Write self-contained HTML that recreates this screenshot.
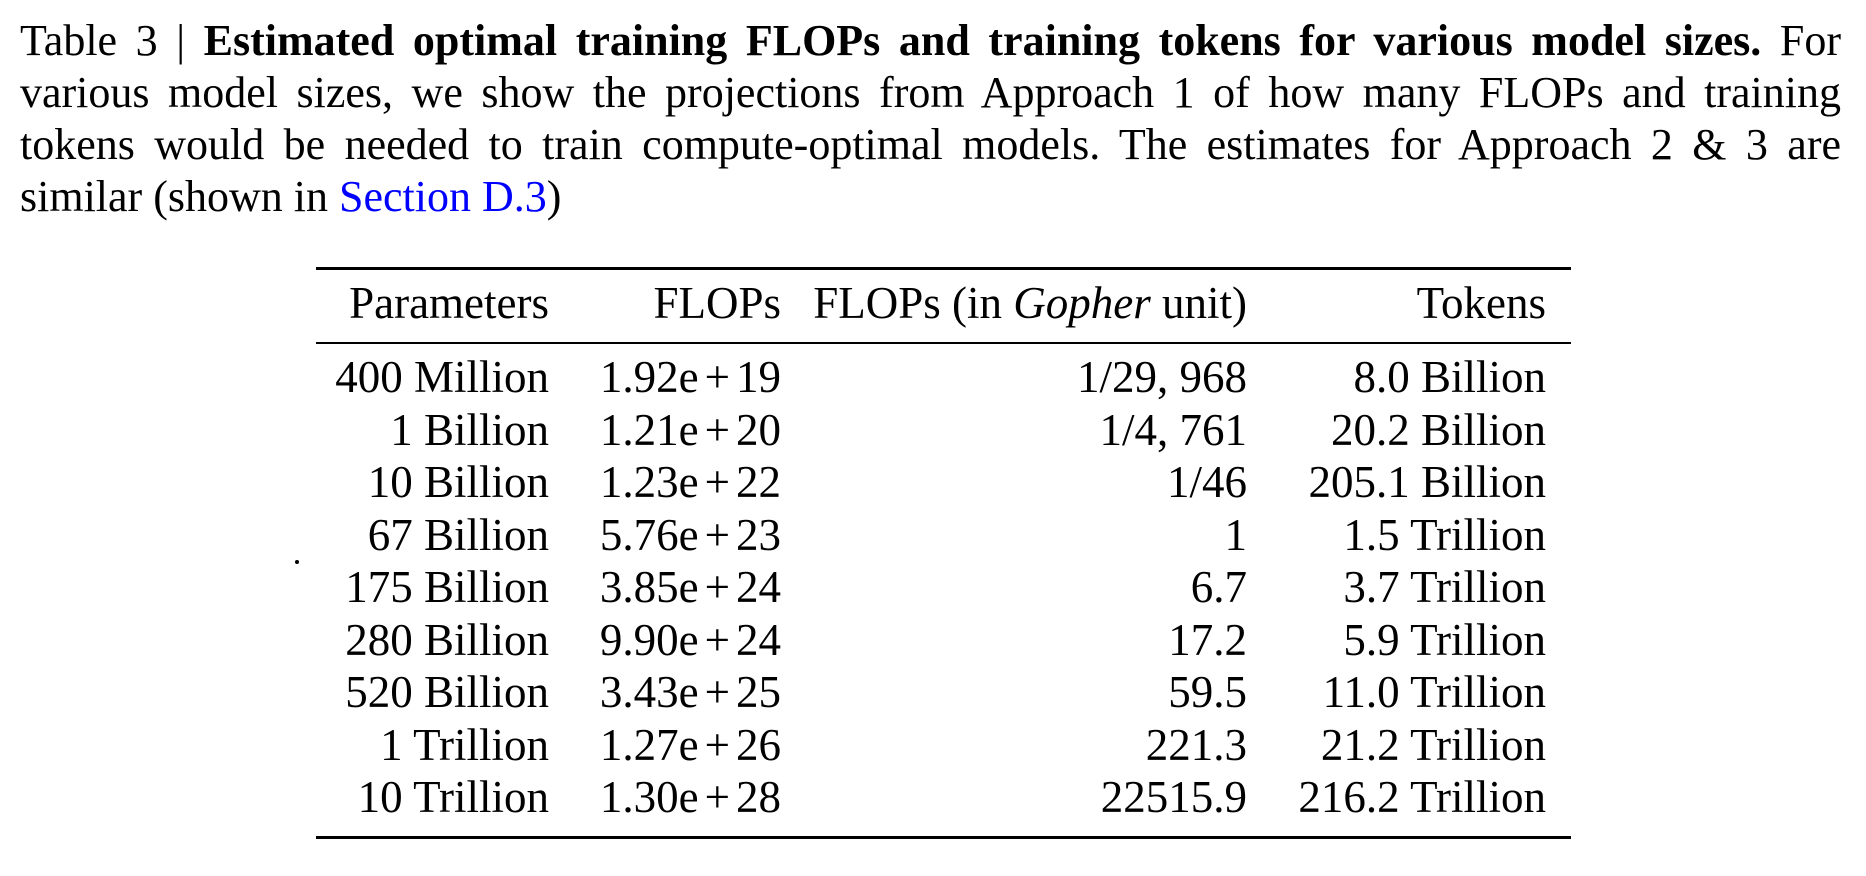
<!DOCTYPE html>
<html>
<head>
<meta charset="utf-8">
<style>
  html, body { margin:0; padding:0; background:#fff; }
  body { width:1866px; height:876px; position:relative; overflow:hidden;
         font-family:"Liberation Serif", serif; color:#000; }
  .cap { position:absolute; left:20px; width:1821px; font-size:44px; line-height:44px;
         white-space:normal; }
  .j { text-align:justify; text-align-last:justify; }
  .t { position:absolute; font-size:45px; line-height:45px; white-space:nowrap; }
  .r { text-align:right; }
  .rule { position:absolute; left:316px; width:1255px; background:#000; }
  .p { margin:0 6px; }
  b { font-weight:bold; }
  .link { color:#0000ff; }
</style>
</head>
<body>
  <div class="cap j" style="top:19px;">Table 3 | <b>Estimated optimal training FLOPs and training tokens for various model sizes.</b> For</div>
  <div class="cap j" style="top:71px;">various model sizes, we show the projections from Approach 1 of how many FLOPs and training</div>
  <div class="cap j" style="top:123px;">tokens would be needed to train compute-optimal models. The estimates for Approach 2 &amp; 3 are</div>
  <div class="cap" style="top:175px;">similar (shown in <span class="link">Section D.3</span>)</div>

  <div class="rule" style="top:267px;height:3px;"></div>
  <div class="rule" style="top:342px;height:2px;"></div>
  <div class="rule" style="top:836px;height:3px;"></div>

  <div style="position:absolute;left:295px;top:560px;width:4px;height:4px;border-radius:50%;background:#000;"></div>

  <div class="t r" style="top:281px;right:1317px;">Parameters</div>
  <div class="t r" style="top:281px;right:1085px;">FLOPs</div>
  <div class="t r" style="top:281px;right:619px;">FLOPs (in <i>Gopher</i> unit)</div>
  <div class="t r" style="top:281px;right:320px;">Tokens</div>

  <div class="t r" style="top:355.3px;right:1317px;">400 Million</div>
  <div class="t r" style="top:355.3px;right:1085px;">1.92e<span class="p">+</span>19</div>
  <div class="t r" style="top:355.3px;right:619px;">1/29, 968</div>
  <div class="t r" style="top:355.3px;right:320px;">8.0 Billion</div>

  <div class="t r" style="top:407.8px;right:1317px;">1 Billion</div>
  <div class="t r" style="top:407.8px;right:1085px;">1.21e<span class="p">+</span>20</div>
  <div class="t r" style="top:407.8px;right:619px;">1/4, 761</div>
  <div class="t r" style="top:407.8px;right:320px;">20.2 Billion</div>

  <div class="t r" style="top:460.3px;right:1317px;">10 Billion</div>
  <div class="t r" style="top:460.3px;right:1085px;">1.23e<span class="p">+</span>22</div>
  <div class="t r" style="top:460.3px;right:619px;">1/46</div>
  <div class="t r" style="top:460.3px;right:320px;">205.1 Billion</div>

  <div class="t r" style="top:512.8px;right:1317px;">67 Billion</div>
  <div class="t r" style="top:512.8px;right:1085px;">5.76e<span class="p">+</span>23</div>
  <div class="t r" style="top:512.8px;right:619px;">1</div>
  <div class="t r" style="top:512.8px;right:320px;">1.5 Trillion</div>

  <div class="t r" style="top:565.3px;right:1317px;">175 Billion</div>
  <div class="t r" style="top:565.3px;right:1085px;">3.85e<span class="p">+</span>24</div>
  <div class="t r" style="top:565.3px;right:619px;">6.7</div>
  <div class="t r" style="top:565.3px;right:320px;">3.7 Trillion</div>

  <div class="t r" style="top:617.8px;right:1317px;">280 Billion</div>
  <div class="t r" style="top:617.8px;right:1085px;">9.90e<span class="p">+</span>24</div>
  <div class="t r" style="top:617.8px;right:619px;">17.2</div>
  <div class="t r" style="top:617.8px;right:320px;">5.9 Trillion</div>

  <div class="t r" style="top:670.3px;right:1317px;">520 Billion</div>
  <div class="t r" style="top:670.3px;right:1085px;">3.43e<span class="p">+</span>25</div>
  <div class="t r" style="top:670.3px;right:619px;">59.5</div>
  <div class="t r" style="top:670.3px;right:320px;">11.0 Trillion</div>

  <div class="t r" style="top:722.8px;right:1317px;">1 Trillion</div>
  <div class="t r" style="top:722.8px;right:1085px;">1.27e<span class="p">+</span>26</div>
  <div class="t r" style="top:722.8px;right:619px;">221.3</div>
  <div class="t r" style="top:722.8px;right:320px;">21.2 Trillion</div>

  <div class="t r" style="top:775.3px;right:1317px;">10 Trillion</div>
  <div class="t r" style="top:775.3px;right:1085px;">1.30e<span class="p">+</span>28</div>
  <div class="t r" style="top:775.3px;right:619px;">22515.9</div>
  <div class="t r" style="top:775.3px;right:320px;">216.2 Trillion</div>
</body>
</html>
